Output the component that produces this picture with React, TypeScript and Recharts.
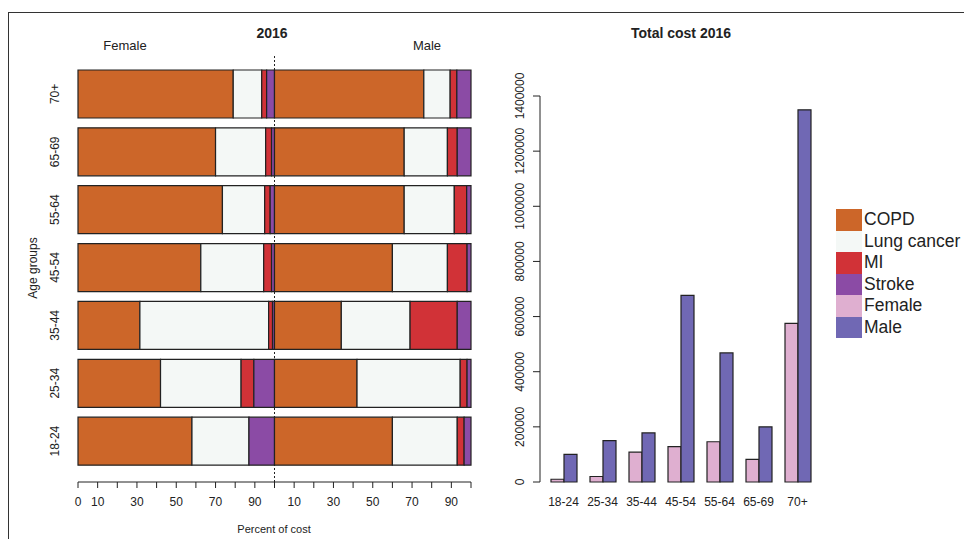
import React from 'react';
import { BarChart, Bar, XAxis, YAxis, ReferenceLine } from 'recharts';

// age groups, bottom to top in the left panel, left to right in the right panel
const ageGroups = ['18-24', '25-34', '35-44', '45-54', '55-64', '65-69', '70+'];

// percent of cost, female
const femaleCopd = [58, 42, 31.5, 62.5, 73.5, 70, 79];
const femaleLung = [29, 41, 65.5, 32, 21.5, 25.5, 14.5];
const femaleMi = [0, 6.5, 2, 4, 2.8, 3, 2.5];
const femaleStroke = [13, 10.5, 1, 1.5, 2.2, 1.5, 4];

// percent of cost, male
const maleCopd = [60, 42, 34, 60, 66, 66, 76];
const maleLung = [33, 52.5, 35, 28, 25.5, 22, 13.4];
const maleMi = [3.5, 3.5, 24, 10, 6.3, 5, 3.4];
const maleStroke = [3.5, 2, 7, 2, 2.2, 7, 7.2];

// total cost 2016
const femaleCost = [10000, 20000, 108000, 128000, 146000, 82000, 575000];
const maleCost = [100000, 150000, 178000, 677000, 468000, 200000, 1350000];

const percentTicks = [0, 10, 20, 30, 40, 50, 60, 70, 80, 90, 100, 110, 120, 130, 140, 150, 160, 170, 180, 190, 200];
const costTicks = [0, 200000, 400000, 600000, 800000, 1000000, 1200000, 1400000];

const COLORS = {
  copd: '#cc6629',
  lung: '#f4f8f6',
  mi: '#d13237',
  stroke: '#8b4ba5',
  female: '#dfafd0',
  male: '#7068b4',
};

const FONT = '"Liberation Sans", Arial, sans-serif';
const INK = '#222';

const shareData = ageGroups
  .map((age, i) => ({
    age,
    fCopd: femaleCopd[i],
    fLung: femaleLung[i],
    fMi: femaleMi[i],
    fStroke: femaleStroke[i],
    mCopd: maleCopd[i],
    mLung: maleLung[i],
    mMi: maleMi[i],
    mStroke: maleStroke[i],
  }))
  .reverse();

const costData = ageGroups.map((age, i) => ({
  age,
  female: femaleCost[i],
  male: maleCost[i],
}));

const legendItems = [
  { name: 'COPD', color: COLORS.copd },
  { name: 'Lung cancer', color: COLORS.lung },
  { name: 'MI', color: COLORS.mi },
  { name: 'Stroke', color: COLORS.stroke },
  { name: 'Female', color: COLORS.female },
  { name: 'Male', color: COLORS.male },
];

// labels R kept on the percent axis (others dropped for overlap)
const percentLabel = (v: number) => {
  const p = v > 100 ? v - 100 : v;
  if (v === 0) return '0';
  if (p % 20 === 10) return String(p);
  return '';
};

const AgeTick = (props: any) => {
  const { y, payload } = props;
  return (
    <text x={55} y={y} transform={`rotate(-90, 55, ${y})`} textAnchor="middle" dominantBaseline="central"
      fontSize={12} fill={INK} fontFamily={FONT}>
      {payload.value}
    </text>
  );
};

const CostTick = (props: any) => {
  const { y, payload } = props;
  return (
    <text x={40} y={y} transform={`rotate(-90, 40, ${y})`} textAnchor="middle" dominantBaseline="central"
      fontSize={12} fill={INK} fontFamily={FONT}>
      {payload.value}
    </text>
  );
};

const seg = (key: string, fill: string) => (
  <Bar key={key} dataKey={key} stackId="s" fill={fill} stroke={INK} strokeWidth={1.2} barSize={48} isAnimationActive={false} />
);

const textStyle: React.CSSProperties = { position: 'absolute', fontFamily: FONT, color: INK, whiteSpace: 'nowrap' };

export default function App() {
  return (
    <div style={{ position: 'absolute', left: 0, top: 0, width: 964, height: 539, background: '#fff', overflow: 'hidden' }}>
      {/* frame */}
      <div style={{ position: 'absolute', left: 8, top: 12, right: -10, bottom: -10, borderTop: '1.5px solid #333', borderLeft: '1.5px solid #333' }} />

      {/* left panel: share of cost */}
      <div style={{ position: 'absolute', left: 0, top: 0 }}>
        <BarChart width={500} height={539} data={shareData} layout="vertical" margin={{ top: 55, right: 29, bottom: 0, left: 0 }}>
          <XAxis type="number" domain={[0, 200]} ticks={percentTicks} interval={0} height={57}
            tickFormatter={percentLabel} tickSize={6} tickMargin={9}
            stroke={INK} tick={{ fill: INK, fontSize: 12, fontFamily: FONT }} />
          <YAxis type="category" dataKey="age" width={78} axisLine={false} tickLine={false}
            padding={{ top: 10, bottom: 12 }} tick={<AgeTick />} />
          {seg('fCopd', COLORS.copd)}
          {seg('fLung', COLORS.lung)}
          {seg('fMi', COLORS.mi)}
          {seg('fStroke', COLORS.stroke)}
          {seg('mCopd', COLORS.copd)}
          {seg('mLung', COLORS.lung)}
          {seg('mMi', COLORS.mi)}
          {seg('mStroke', COLORS.stroke)}
          <ReferenceLine x={100} stroke={INK} strokeDasharray="2 2" strokeWidth={1} />
        </BarChart>
      </div>

      {/* right panel: total cost */}
      <div style={{ position: 'absolute', left: 480, top: 0 }}>
        <BarChart width={484} height={539} data={costData} barGap={0} margin={{ top: 96, right: 147, bottom: 0, left: 0 }}>
          <XAxis dataKey="age" height={57} axisLine={false} tickLine={false} tickSize={0} tickMargin={15}
            padding={{ left: 4, right: 0 }} interval={0}
            tick={{ fill: INK, fontSize: 12, fontFamily: FONT }} />
          <YAxis type="number" domain={[0, 1400000]} ticks={costTicks} interval={0} width={60}
            tickSize={7} stroke={INK} tick={<CostTick />} />
          <Bar dataKey="female" fill={COLORS.female} stroke={INK} strokeWidth={1.2} barSize={13} isAnimationActive={false} />
          <Bar dataKey="male" fill={COLORS.male} stroke={INK} strokeWidth={1.2} barSize={13} isAnimationActive={false} />
        </BarChart>
      </div>

      {/* titles */}
      <div style={{ ...textStyle, left: 272, top: 25, transform: 'translateX(-50%)', fontSize: 14, fontWeight: 'bold' }}>2016</div>
      <div style={{ ...textStyle, left: 125, top: 38, transform: 'translateX(-50%)', fontSize: 13 }}>Female</div>
      <div style={{ ...textStyle, left: 427, top: 38, transform: 'translateX(-50%)', fontSize: 13 }}>Male</div>
      <div style={{ ...textStyle, left: 681, top: 25, transform: 'translateX(-50%)', fontSize: 14, fontWeight: 'bold' }}>Total cost 2016</div>
      <div style={{ ...textStyle, left: 274, top: 523, transform: 'translateX(-50%)', fontSize: 11 }}>Percent of cost</div>
      <div style={{ ...textStyle, left: 33, top: 268, transform: 'translate(-50%, -50%) rotate(-90deg)', fontSize: 12 }}>Age groups</div>

      {/* legend */}
      <div style={{ position: 'absolute', left: 836, top: 209 }}>
        {legendItems.map((item) => (
          <div key={item.name} style={{ display: 'flex', alignItems: 'center', height: 21.5 }}>
            <div style={{ width: 26, height: 21.5, background: item.color }} />
            <span style={{ fontFamily: FONT, fontSize: 17.5, color: INK, marginLeft: 2, lineHeight: '21.5px' }}>{item.name}</span>
          </div>
        ))}
      </div>
    </div>
  );
}
